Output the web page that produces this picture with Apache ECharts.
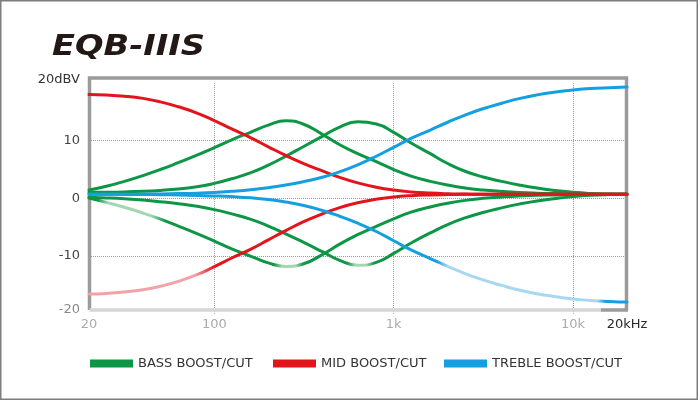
<!DOCTYPE html>
<html>
<head>
<meta charset="utf-8">
<script src="https://cdn.jsdelivr.net/npm/echarts/dist/echarts.min.js"></script>
<style>html,body{margin:0;padding:0;background:#fff}#c{width:700px;height:401px}</style>
</head>
<body>
<div id="c"></div>
<script>
// Frequencies (Hz) at which every curve was read (1/3-octave points)
const freqs = [20,25,31.5,40,50,63,80,100,125,160,200,250,315,400,500,630,800,1000,1250,1600,2000,2500,3150,4000,5000,6300,8000,10000,12500,16000,20000];

// BASS BOOST/CUT (green) – four curves (dBV)
const bassBoostLow  = [1.45,2.1,2.95,3.95,5.0,6.2,7.5,8.8,10.15,11.5,12.7,13.45,12.85,11.1,9.3,7.75,6.35,5.0,3.85,2.95,2.3,1.8,1.45,1.2,1.02,0.9,0.82,0.76,0.72,0.7,0.7];
const bassBoostHigh = [1.05,1.07,1.12,1.22,1.38,1.62,2.0,2.6,3.4,4.45,5.75,7.3,9.0,10.75,12.37,13.27,12.91,11.45,9.6,7.75,6.05,4.7,3.7,2.95,2.32,1.78,1.35,1.04,0.85,0.75,0.7];
const bassCutLow    = [0.05,-0.7,-1.55,-2.55,-3.6,-4.8,-6.1,-7.4,-8.75,-10.05,-11.2,-11.8,-11.35,-9.75,-7.95,-6.3,-4.85,-3.55,-2.4,-1.5,-0.85,-0.35,0.0,0.25,0.42,0.52,0.6,0.65,0.68,0.7,0.7];
const bassCutHigh   = [0.2,0.08,-0.08,-0.3,-0.58,-0.93,-1.38,-1.95,-2.7,-3.65,-4.8,-6.15,-7.65,-9.25,-10.75,-11.6,-11.1,-9.55,-7.75,-6.0,-4.55,-3.4,-2.45,-1.65,-1.0,-0.45,-0.02,0.3,0.52,0.65,0.7];

// MID BOOST/CUT (red)
const midBoost = [18.0,17.92,17.72,17.34,16.74,15.89,14.79,13.49,12.04,10.49,8.94,7.44,6.04,4.76,3.64,2.69,1.94,1.44,1.11,0.91,0.8,0.74,0.7,0.7,0.7,0.7,0.7,0.7,0.7,0.7,0.7];
const midCut   = [-16.6,-16.5,-16.25,-15.85,-15.25,-14.4,-13.25,-11.85,-10.35,-8.8,-7.2,-5.6,-4.05,-2.7,-1.6,-0.75,-0.15,0.25,0.47,0.59,0.65,0.69,0.7,0.7,0.7,0.7,0.7,0.7,0.7,0.7,0.7];

// TREBLE BOOST/CUT (blue)
const trebleBoost = [0.7,0.7,0.72,0.74,0.77,0.82,0.9,1.02,1.22,1.5,1.85,2.3,2.9,3.65,4.6,5.8,7.3,8.85,10.4,11.85,13.2,14.45,15.55,16.5,17.3,17.95,18.45,18.8,19.05,19.2,19.3];
const trebleCut   = [0.7,0.7,0.68,0.66,0.63,0.58,0.5,0.42,0.3,0.1,-0.2,-0.65,-1.25,-2.1,-3.1,-4.3,-5.75,-7.35,-8.95,-10.45,-11.8,-13.05,-14.15,-15.1,-15.9,-16.55,-17.05,-17.45,-17.7,-17.88,-18.0];

const legendNames = ['BASS BOOST/CUT','MID BOOST/CUT','TREBLE BOOST/CUT'];
const titleText = 'EQB-IIIS';

const GREEN = '#0d9646', RED = '#e3141c', BLUE = '#14a0e0';
const LGREEN = '#a3d6b3', LRED = '#f2a3a8', LBLUE = '#a6d9f1';
const FONT = '"DejaVu Sans", "Liberation Sans", sans-serif';

function pairs(vals){ return freqs.map((f,i)=>[f, vals[i]]); }
function grad(stops){
  return {type:'linear', x:0, y:0, x2:1, y2:0, colorStops: stops.map(s=>({offset:s[0], color:s[1]}))};
}
function line(name, vals, color, lineColor){
  return {
    name, type:'line', data: pairs(vals), smooth:0.5, showSymbol:false, symbol:'none',
    itemStyle:{color}, lineStyle:{width:3, color: lineColor || color, cap:'round'},
    emphasis:{disabled:true}, z:3
  };
}

const chart = echarts.init(document.getElementById('c'), null, {renderer:'canvas'});
chart.setOption({
  animation:false,
  backgroundColor:'#fff',
  grid:{left:89, right:73, top:83.05, bottom:87.35, show:false, outerBoundsMode:'none', containLabel:false},
  xAxis:{
    type:'log', logBase:10, min:20, max:20000,
    axisLine:{show:false}, axisTick:{show:false},
    splitLine:{show:true, showMinLine:false, showMaxLine:false, lineStyle:{type:'dotted', color:'#9a9a9a', width:1}},
    axisLabel:{
      show:true, showMinLabel:true, showMaxLabel:true, margin:4, fontFamily:FONT, fontSize:13, color:'#aaa',
      formatter:function(v){
        const r = Math.round(v);
        if (r >= 20000) return '{e|20kHz}';
        if (r >= 1000) return '{n|' + (r/1000) + 'k}';
        return '{n|' + r + '}';
      },
      rich:{ n:{color:'#acacac', fontSize:13, fontFamily:FONT}, e:{color:'#2a2a2a', fontSize:13, fontFamily:FONT} }
    }
  },
  yAxis:{
    type:'value', min:-20, max:20, interval:10,
    axisLine:{show:false}, axisTick:{show:false},
    splitLine:{show:true, showMinLine:false, showMaxLine:false, lineStyle:{type:'dotted', color:'#9a9a9a', width:1}},
    axisLabel:{
      show:true, showMinLabel:true, showMaxLabel:true, margin:9, fontFamily:FONT, fontSize:13,
      formatter:function(v){
        if (v === 20) return '{t|20dBV}';
        if (v === -20) return '{b|-20}';
        return '{m|' + v + '}';
      },
      rich:{
        t:{color:'#333', fontSize:13, fontFamily:FONT, padding:[0,0,7,0]},
        b:{color:'#8a8a8a', fontSize:13, fontFamily:FONT, padding:[0,0,8,0]},
        m:{color:'#444', fontSize:13, fontFamily:FONT}
      }
    }
  },
  legend: legendNames.map((n,i)=>({
    data:[n], left:[90,273,444][i], top:357, icon:'rect', itemWidth:43, itemHeight:8,
    itemGap:0, padding:0, selectedMode:false,
    textStyle:{fontFamily:FONT, fontSize:13, color:'#333'}
  })),
  graphic:[
    {type:'rect', z:0, shape:{x:0.75, y:0.75, width:696.5, height:398.5}, style:{fill:'none', stroke:'#7d7d7d', lineWidth:1.5}},
    {type:'polyline', z:1, shape:{points:[[89.5,310],[89.5,78],[626.5,78],[626.5,310]]}, style:{fill:'none', stroke:'#9b9b9b', lineWidth:3.5}},
    {type:'line', z:1, shape:{x1:89.5, y1:310, x2:601, y2:310}, style:{stroke:'#d5d5d5', lineWidth:3.5}},
    {type:'line', z:1, shape:{x1:601, y1:310, x2:628, y2:310}, style:{stroke:'#9b9b9b', lineWidth:3.5}},
    {type:'text', z:5, x:52, y:47.5, scaleX:1.16, style:{text:titleText, font:'italic bold 29px "DejaVu Sans"', fill:'#231815', verticalAlign:'middle', align:'left'}}
  ],
  series:[
    line(legendNames[0], bassBoostLow, GREEN),
    line(legendNames[0], bassBoostHigh, GREEN),
    line(legendNames[0], bassCutLow, GREEN, grad([[0,GREEN],[0.02,GREEN],[0.04,LGREEN],[0.12,LGREEN],[0.145,GREEN],[0.345,GREEN],[0.36,LGREEN],[0.385,LGREEN],[0.40,GREEN],[1,GREEN]])),
    line(legendNames[0], bassCutHigh, GREEN, grad([[0,GREEN],[0.48,GREEN],[0.495,LGREEN],[0.515,LGREEN],[0.53,GREEN],[1,GREEN]])),
    line(legendNames[1], midBoost, RED),
    line(legendNames[1], midCut, RED, grad([[0,LRED],[0.2,LRED],[0.235,RED],[1,RED]])),
    line(legendNames[2], trebleBoost, BLUE),
    line(legendNames[2], trebleCut, BLUE, grad([[0,BLUE],[0.645,BLUE],[0.665,LBLUE],[0.94,LBLUE],[0.955,BLUE],[1,BLUE]]))
  ]
});
</script>
</body>
</html>
